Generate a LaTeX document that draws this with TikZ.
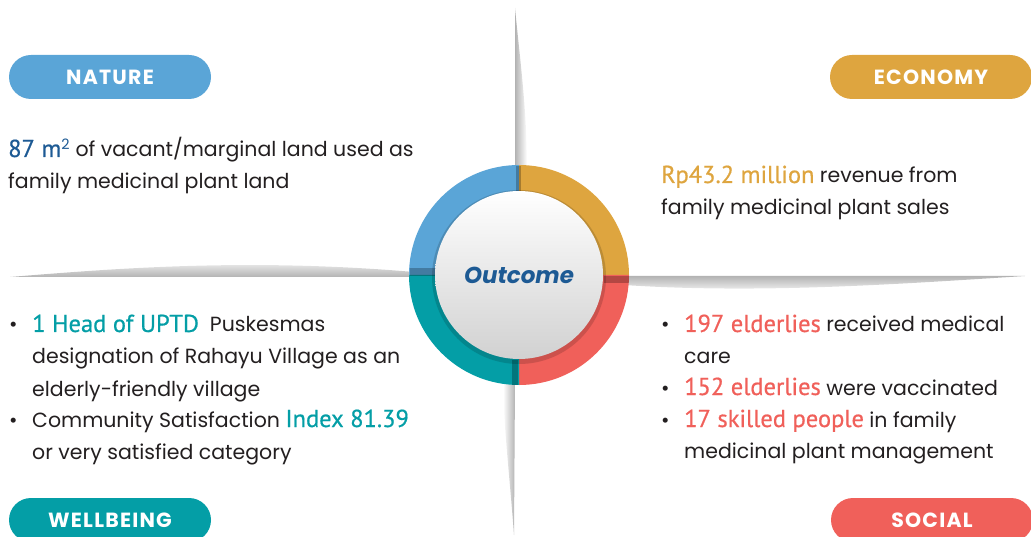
\documentclass[tikz,border=0pt]{standalone}
\usepackage{fontspec}
\setmainfont{Poppins}
\newfontfamily\handfont[FakeBold=0.6]{PT Sans}
\newfontfamily\pillfont[LetterSpace=6]{Poppins}
\definecolor{natblue}{HTML}{5AA5D7}
\definecolor{ecogold}{HTML}{DEA53F}
\definecolor{socred}{HTML}{F0605A}
\definecolor{wbteal}{HTML}{049EA6}
\definecolor{outblue}{HTML}{1D5A94}
\definecolor{ink}{HTML}{231F20}
\newcommand{\hilite}[2]{{\handfont\fontsize{24.5}{24.5}\selectfont\color{#1}#2}}

\begin{document}
\begin{tikzpicture}[x=1pt,y=-1pt,
    pill/.style={fill=#1, rounded corners=22pt, minimum width=202pt, minimum height=44pt,
        inner sep=0pt, text=white, font=\pillfont\fontsize{20.5}{20.5}\selectfont\bfseries},
    txt/.style={anchor=base west, inner sep=0pt, text=ink, font=\fontsize{20.5}{20.5}\selectfont},
    blade/.style={draw=none}]
    \useasboundingbox (0,0) rectangle (1031,537);
    \clip (0,0) rectangle (1031,537);

    % the four blades of the cross
    \shade[blade, left color=gray!60, right color=white]
        (515,170) -- (515,8) .. controls (520,60) and (527,110) .. (527,170) -- cycle;
    \shade[blade, left color=white, right color=gray!60]
        (515,380) -- (514,535) .. controls (510,480) and (503,420) .. (503,380) -- cycle;
    \shade[blade, top color=white, bottom color=gray!60]
        (414,277) -- (10,277) .. controls (120,268) and (250,258) .. (414,272) -- cycle;
    \shade[blade, top color=gray!60, bottom color=white]
        (624,276) -- (1025,276) .. controls (900,284) and (760,294) .. (624,285) -- cycle;

    % ring
    \foreach \a/\c in {180/natblue,270/ecogold,0/socred,90/wbteal}
        \fill[\c] (519,275) -- ++(\a:110) arc[start angle=\a, end angle=\a+90, radius=110] -- cycle;
    \fill[black, opacity=.25] (516,166) rectangle (521,191);
    \fill[black, opacity=.25] (512,360) rectangle (518,385);
    \fill[black, opacity=.25] (410,268) rectangle (435,276);
    \fill[black, opacity=.25] (604,276) rectangle (629,283);
    \fill[black, opacity=.15] (519,277) circle[radius=87];
    \shade[top color=white, middle color=black!3, bottom color=black!18] (519,275) circle[radius=84];
    \node[font=\fontsize{23}{23}\selectfont\bfseries\itshape, text=outblue] (outcome) at (519,275) {Outcome};

    % labels
    \node[pill=natblue] (nature) at (110,77) {NATURE};
    \node[pill=ecogold] (economy) at (931,77) {ECONOMY};
    \node[pill=wbteal] (wellbeing) at (110,520) {WELLBEING};
    \node[pill=socred] (social) at (932,520) {SOCIAL};

    % nature
    \node[txt] (nat1) at (8,157) {\hilite{outblue}{87 m}\textcolor{outblue}{\textsuperscript{2}} of vacant/marginal land used as};
    \node[txt] (nat2) at (8,189) {family medicinal plant land};

    % economy
    \node[txt] (eco1) at (661,183) {\hilite{ecogold}{Rp43.2 million} revenue from};
    \node[txt] (eco2) at (661,215) {family medicinal plant sales};

    % wellbeing
    \foreach \y in {332,427} \node[txt] (wbul\y) at (9,\y) {•};
    \node[txt] (wb1) at (32,332) {\hilite{wbteal}{1 Head of UPTD}\ \ Puskesmas};
    \node[txt] (wb2) at (32,363) {designation of Rahayu Village as an};
    \node[txt] (wb3) at (32,396) {elderly-friendly village};
    \node[txt] (wb4) at (32,427) {Community Satisfaction \hilite{wbteal}{Index 81.39}};
    \node[txt] (wb5) at (32,459) {or very satisfied category};

    % social
    \foreach \y in {332,395,427} \node[txt] (sbul\y) at (661,\y) {•};
    \node[txt] (so1) at (684,332) {\hilite{socred}{197 elderlies} received medical};
    \node[txt] (so2) at (684,363) {care};
    \node[txt] (so3) at (684,395) {\hilite{socred}{152 elderlies} were vaccinated};
    \node[txt] (so4) at (684,427) {\hilite{socred}{17 skilled people} in family};
    \node[txt] (so5) at (684,458) {medicinal plant management};
\end{tikzpicture}
\end{document}
